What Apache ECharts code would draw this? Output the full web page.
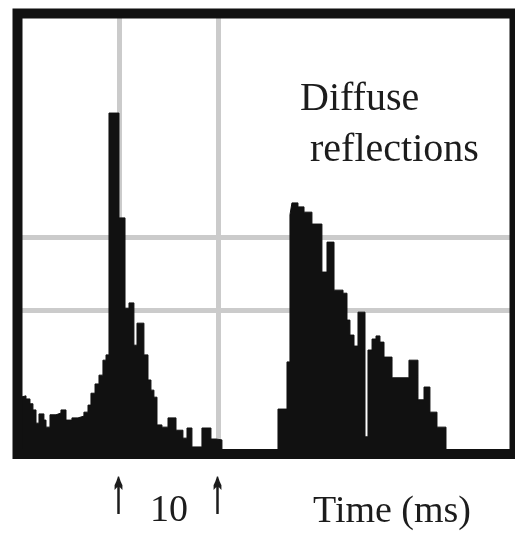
<!DOCTYPE html>
<html>
<head>
<meta charset="utf-8">
<script src="https://cdn.jsdelivr.net/npm/echarts@6/dist/echarts.min.js"></script>
<style>
html,body{margin:0;padding:0;background:#fff;}
#chart{width:515px;height:536px;}
</style>
</head>
<body>
<div id="chart"></div>
<script>
// Time (ms) where each step of the envelope begins
const time = [
  0.00, 0.15, 0.56, 0.96, 1.26, 1.57, 1.87, 2.37, 2.58, 2.98,
  3.59, 4.09, 4.60, 5.20, 5.81, 6.41, 6.82, 7.12, 7.53, 7.93,
  8.33, 8.64, 8.94, 9.95, 10.56, 10.96, 11.46, 11.77, 12.47, 12.88,
  13.18, 13.48, 13.79, 14.29, 14.90, 15.71, 16.41, 16.82, 17.32, 18.33,
  19.24, 19.75, 20.35,
  26.01, 26.92, 27.22, 27.42, 28.03, 28.64, 29.44, 30.45, 30.96, 31.67,
  32.58, 32.98, 33.28, 33.69, 34.09, 34.80, 35.10, 35.51, 35.91, 36.31,
  36.72, 37.53, 39.24, 40.15, 40.76, 41.36, 42.07, 42.98, 49.9
];
// Amplitude (arbitrary units, 0-100) of each step
const level = [
  12.9, 13.2, 12.5, 11.4, 10.0, 7.0, 9.1, 7.7, 6.1, 8.9,
  9.3, 10.0, 7.7, 8.2, 8.6, 9.5, 11.1, 13.8, 15.9, 17.9,
  21.3, 22.5, 77.4, 53.6, 33.1, 34.3, 24.7, 29.7, 22.5, 16.8,
  14.5, 12.9, 6.6, 6.1, 8.2, 5.4, 3.6, 5.9, 1.6, 5.9,
  3.4, 3.2, 0,
  10.2, 20.9, 54.3, 57.0, 56.1, 54.9, 52.2, 41.3, 48.1, 37.2,
  36.5, 30.4, 27.0, 24.5, 32.2, 3.9, 23.6, 26.1, 26.8, 25.4,
  22.0, 17.3, 21.3, 12.3, 15.2, 9.5, 6.1, 0, 0
];
const gridTimes = [10, 20];      // vertical grid lines, also marked with arrows
const gridLevels = [32.7, 49.3]; // horizontal grid lines
const tickValues = [15];         // scale label between the arrows
const tickLabels = ['10'];

const chart = echarts.init(document.getElementById('chart'), null, {renderer: 'canvas'});
const serif = '"Liberation Serif", "DejaVu Serif", serif';

const textGraphics = [
  {type: 'text', left: 300, top: 79, z: 10,
   style: {text: 'Diffuse', font: '40px ' + serif, fill: '#1c1c1c'}},
  {type: 'text', left: 310, top: 130, z: 10,
   style: {text: 'reflections', font: '40px ' + serif, fill: '#1c1c1c'}},
  {type: 'text', left: 313, top: 493, z: 10,
   style: {text: 'Time (ms)', font: '38px ' + serif, fill: '#1c1c1c'}}
];

chart.setOption({
  animation: false,
  backgroundColor: '#fff',
  grid: {
    left: 17.5, top: 13.5, width: 497, height: 440.5,
    show: true, borderColor: '#111', borderWidth: 10, z: 3,
    backgroundColor: 'transparent'
  },
  xAxis: {
    type: 'value', min: -0.3, max: 49.9,
    axisLine: {show: false}, axisTick: {show: false}, splitLine: {show: false},
    axisLabel: {
      customValues: tickValues,
      margin: 38,
      formatter: function (v) {
        const i = tickValues.indexOf(v);
        return i < 0 ? '' : tickLabels[i];
      },
      fontFamily: serif, fontSize: 38, color: '#1c1c1c'
    }
  },
  yAxis: {
    type: 'value', min: 0, max: 100,
    axisLine: {show: false}, axisTick: {show: false}, splitLine: {show: false},
    axisLabel: {show: false}
  },
  graphic: textGraphics,
  series: [
    {
      type: 'line', data: [], z: 1, silent: true,
      markLine: {
        z: 1, silent: true, symbol: 'none', label: {show: false},
        lineStyle: {color: '#cbcbcb', width: 5, type: 'solid'},
        emphasis: {disabled: true},
        data: gridTimes.map(t => ({xAxis: t})).concat(gridLevels.map(v => ({yAxis: v})))
      }
    },
    {
      type: 'line', z: 2, step: 'end', symbol: 'none', silent: true,
      data: time.map((t, i) => [t, level[i]]),
      lineStyle: {color: '#111', width: 1},
      areaStyle: {color: '#111', opacity: 1, origin: 'start'}
    }
  ]
});

// Arrows under the two marked times, placed through the x axis scale
const arrows = gridTimes.map(t => ({
  type: 'text', z: 10,
  x: chart.convertToPixel({xAxisIndex: 0}, t) - 1,
  y: 466,
  scaleY: 2.1,
  style: {text: '↑', font: 'bold 28px ' + serif, fill: '#1c1c1c',
          stroke: '#1c1c1c', lineWidth: 1.3, align: 'center', verticalAlign: 'top'}
}));
chart.setOption({graphic: textGraphics.concat(arrows)});
</script>
</body>
</html>
